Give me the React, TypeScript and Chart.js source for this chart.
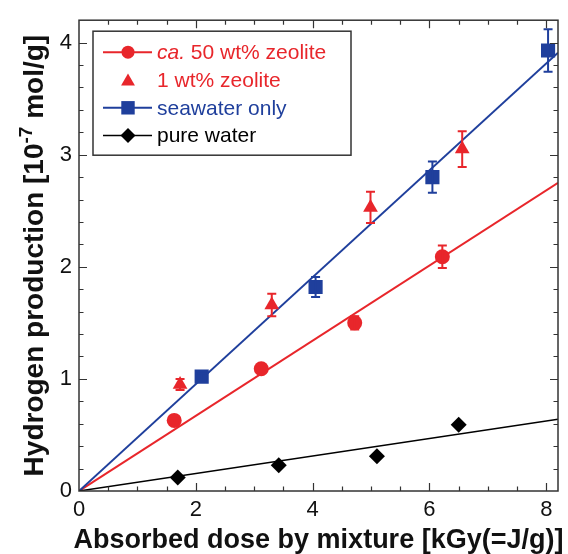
import React, { useEffect, useRef } from "react";
import { Chart, registerables } from "chart.js";

Chart.register(...registerables);

const RED = "#e8262b";
const BLUE = "#1f3f9c";
const BLACK = "#000000";
const FRAME = "#333333";
const FONT = "'Liberation Sans', Arial, sans-serif";

// ca. 50 wt% zeolite (red circles)
const zeolite50X = [1.63, 3.12, 4.72, 6.22];
const zeolite50Y = [0.63, 1.09, 1.5, 2.09];
const zeolite50Err = [0.02, 0.02, 0.06, 0.1];

// 1 wt% zeolite (red triangles)
const zeolite1X = [1.73, 3.3, 4.99, 6.56];
const zeolite1Y = [0.95, 1.66, 2.53, 3.05];
const zeolite1Err = [0.05, 0.1, 0.14, 0.16];

// seawater only (blue squares)
const seawaterX = [2.1, 4.05, 6.05, 8.03];
const seawaterY = [1.02, 1.82, 2.8, 3.93];
const seawaterErr = [0.03, 0.09, 0.14, 0.19];

// pure water (black diamonds)
const pureX = [1.69, 3.42, 5.1, 6.5];
const pureY = [0.12, 0.23, 0.31, 0.59];
const pureErr = [0, 0, 0, 0];

// linear fits (endpoints)
const fitX = [0, 8.2];
const fit50Y = [0, 2.75];
const fitSeaY = [0, 3.91];
const fitPureY = [0, 0.64];

// axes
const X_MIN = 0;
const X_MAX = 8.2;
const X_STEP = 2;
const X_MINOR = 0.5;
const Y_MIN = 0;
const Y_MAX = 4.2;
const Y_STEP = 1;
const Y_MINOR = 0.2;

const X_TITLE = "Absorbed dose by mixture [kGy(=J/g)]";
const Y_TITLE_A = "Hydrogen production [10";
const Y_TITLE_SUP = "-7";
const Y_TITLE_B = " mol/g]";

const legendItems = [
  { italic: "ca.", text: " 50 wt% zeolite", color: RED, style: "circle", line: true },
  { italic: "", text: "1 wt% zeolite", color: RED, style: "triangle", line: false },
  { italic: "", text: "seawater only", color: BLUE, style: "rect", line: true },
  { italic: "", text: "pure water", color: BLACK, style: "rectRot", line: true },
];

const toPts = (xs: number[], ys: number[]) => xs.map((x, i) => ({ x, y: ys[i] }));

const errorSets = [
  { xs: zeolite50X, ys: zeolite50Y, es: zeolite50Err, color: RED },
  { xs: zeolite1X, ys: zeolite1Y, es: zeolite1Err, color: RED },
  { xs: seawaterX, ys: seawaterY, es: seawaterErr, color: BLUE },
  { xs: pureX, ys: pureY, es: pureErr, color: BLACK },
];

function drawMarker(ctx: CanvasRenderingContext2D, style: string, x: number, y: number, r: number, color: string) {
  ctx.save();
  ctx.fillStyle = color;
  ctx.beginPath();
  if (style === "circle") {
    ctx.arc(x, y, r, 0, Math.PI * 2);
  } else if (style === "triangle") {
    const w = r * Math.sqrt(3) / 2;
    ctx.moveTo(x, y - r);
    ctx.lineTo(x + w, y + r / 2);
    ctx.lineTo(x - w, y + r / 2);
    ctx.closePath();
  } else if (style === "rect") {
    const s = r * Math.SQRT1_2;
    ctx.rect(x - s, y - s, 2 * s, 2 * s);
  } else {
    ctx.moveTo(x, y - r);
    ctx.lineTo(x + r, y);
    ctx.lineTo(x, y + r);
    ctx.lineTo(x - r, y);
    ctx.closePath();
  }
  ctx.fill();
  ctx.restore();
}

const errorBarPlugin = {
  id: "errorBars",
  afterDatasetsDraw(chart: any) {
    const { ctx, scales } = chart;
    const xs = scales.x;
    const ys = scales.y;
    ctx.save();
    ctx.lineWidth = 2;
    errorSets.forEach((s) => {
      ctx.strokeStyle = s.color;
      s.xs.forEach((xv, i) => {
        const e = s.es[i];
        if (!e) return;
        const px = xs.getPixelForValue(xv);
        const top = ys.getPixelForValue(s.ys[i] + e);
        const bot = ys.getPixelForValue(s.ys[i] - e);
        ctx.beginPath();
        ctx.moveTo(px, top);
        ctx.lineTo(px, bot);
        ctx.moveTo(px - 4.5, top);
        ctx.lineTo(px + 4.5, top);
        ctx.moveTo(px - 4.5, bot);
        ctx.lineTo(px + 4.5, bot);
        ctx.stroke();
      });
    });
    ctx.restore();
  },
};

const framePlugin = {
  id: "frameTicks",
  afterDraw(chart: any) {
    const { ctx, chartArea: a, scales } = chart;
    const xs = scales.x;
    const ys = scales.y;
    ctx.save();
    ctx.strokeStyle = FRAME;
    ctx.lineWidth = 1.5;
    ctx.strokeRect(a.left, a.top, a.right - a.left, a.bottom - a.top);
    ctx.lineWidth = 1.2;
    ctx.beginPath();
    const nx = Math.round((X_MAX - X_MIN) / X_MINOR);
    for (let i = 1; i <= nx; i++) {
      const v = X_MIN + i * X_MINOR;
      if (v >= X_MAX - 1e-6) continue;
      const major = Math.abs(v / X_STEP - Math.round(v / X_STEP)) < 1e-6;
      const len = major ? 8 : 4.5;
      const px = Math.round(xs.getPixelForValue(v)) + 0.5;
      ctx.moveTo(px, a.bottom);
      ctx.lineTo(px, a.bottom - len);
      ctx.moveTo(px, a.top);
      ctx.lineTo(px, a.top + len);
    }
    const ny = Math.round((Y_MAX - Y_MIN) / Y_MINOR);
    for (let i = 1; i <= ny; i++) {
      const v = Y_MIN + i * Y_MINOR;
      if (v >= Y_MAX - 1e-6) continue;
      const major = Math.abs(v / Y_STEP - Math.round(v / Y_STEP)) < 1e-6;
      const len = major ? 8 : 4.5;
      const py = Math.round(ys.getPixelForValue(v)) + 0.5;
      ctx.moveTo(a.left, py);
      ctx.lineTo(a.left + len, py);
      ctx.moveTo(a.right, py);
      ctx.lineTo(a.right - len, py);
    }
    ctx.stroke();

    // axis titles
    ctx.fillStyle = "#111";
    ctx.font = `bold 27px ${FONT}`;
    ctx.textAlign = "center";
    ctx.textBaseline = "alphabetic";
    ctx.fillText(X_TITLE, (a.left + a.right) / 2, 548);

    // y title with superscript
    ctx.save();
    ctx.translate(43, (a.top + a.bottom) / 2);
    ctx.rotate(-Math.PI / 2);
    ctx.font = `bold 28px ${FONT}`;
    const wA = ctx.measureText(Y_TITLE_A).width;
    const wB = ctx.measureText(Y_TITLE_B).width;
    ctx.font = `bold 19px ${FONT}`;
    const wS = ctx.measureText(Y_TITLE_SUP).width;
    const total = wA + wS + wB;
    let cx = -total / 2;
    ctx.textAlign = "left";
    ctx.font = `bold 28px ${FONT}`;
    ctx.fillText(Y_TITLE_A, cx, 0);
    cx += wA;
    ctx.font = `bold 19px ${FONT}`;
    ctx.fillText(Y_TITLE_SUP, cx, -11);
    cx += wS;
    ctx.font = `bold 28px ${FONT}`;
    ctx.fillText(Y_TITLE_B, cx, 0);
    ctx.restore();

    // legend
    const lx = a.left + 14;
    const ly = a.top + 11;
    const lw = 258;
    const lh = 124;
    ctx.fillStyle = "#fff";
    ctx.fillRect(lx, ly, lw, lh);
    ctx.strokeStyle = FRAME;
    ctx.lineWidth = 1.5;
    ctx.strokeRect(lx, ly, lw, lh);
    legendItems.forEach((it, i) => {
      const yy = ly + 21 + i * 27.8;
      if (it.line) {
        ctx.strokeStyle = it.color;
        ctx.lineWidth = it.color === BLACK ? 1.5 : 2;
        ctx.beginPath();
        ctx.moveTo(lx + 10, yy);
        ctx.lineTo(lx + 59, yy);
        ctx.stroke();
      }
      const r = it.style === "rect" ? 9.5 : it.style === "triangle" ? 8 : it.style === "rectRot" ? 7.5 : 6.5;
      drawMarker(ctx, it.style, lx + 35, yy + (it.style === "triangle" ? 1.5 : 0), r, it.color);
      ctx.fillStyle = it.color;
      ctx.textAlign = "left";
      ctx.textBaseline = "middle";
      let tx = lx + 64;
      if (it.italic) {
        ctx.font = `italic 21px ${FONT}`;
        ctx.fillText(it.italic, tx, yy + 1);
        tx += ctx.measureText(it.italic).width;
      }
      ctx.font = `21px ${FONT}`;
      ctx.fillText(it.text, tx, yy + 1);
    });
    ctx.restore();
  },
};

export default function App() {
  const ref = useRef<HTMLCanvasElement>(null);
  useEffect(() => {
    if (!ref.current) return;
    const chart = new Chart(ref.current, {
      type: "scatter",
      data: {
        datasets: [
          {
            label: "fit 50",
            data: toPts(fitX, fit50Y),
            showLine: true,
            borderColor: RED,
            borderWidth: 2,
            pointRadius: 0,
            order: 10,
          },
          {
            label: "fit seawater",
            data: toPts(fitX, fitSeaY),
            showLine: true,
            borderColor: BLUE,
            borderWidth: 2,
            pointRadius: 0,
            order: 9,
          },
          {
            label: "fit pure",
            data: toPts(fitX, fitPureY),
            showLine: true,
            borderColor: BLACK,
            borderWidth: 1.5,
            pointRadius: 0,
            order: 8,
          },
          {
            label: "ca. 50 wt% zeolite",
            data: toPts(zeolite50X, zeolite50Y),
            pointStyle: "circle",
            pointRadius: 7.5,
            backgroundColor: RED,
            borderColor: RED,
            borderWidth: 0,
            order: 4,
          },
          {
            label: "1 wt% zeolite",
            data: toPts(zeolite1X, zeolite1Y),
            pointStyle: "triangle",
            pointRadius: 8.5,
            backgroundColor: RED,
            borderColor: RED,
            borderWidth: 0,
            order: 3,
          },
          {
            label: "seawater only",
            data: toPts(seawaterX, seawaterY),
            pointStyle: "rect",
            pointRadius: 10,
            backgroundColor: BLUE,
            borderColor: BLUE,
            borderWidth: 0,
            order: 2,
          },
          {
            label: "pure water",
            data: toPts(pureX, pureY),
            pointStyle: "rectRot",
            pointRadius: 8,
            backgroundColor: BLACK,
            borderColor: BLACK,
            borderWidth: 0,
            order: 1,
          },
        ],
      },
      options: {
        responsive: false,
        animation: false,
        layout: { padding: { left: 59, right: 9, top: 13, bottom: 35 } },
        plugins: { legend: { display: false }, tooltip: { enabled: false } },
        scales: {
          x: {
            type: "linear",
            min: X_MIN,
            max: X_MAX,
            grid: { display: false, drawTicks: false },
            border: { display: false },
            ticks: {
              stepSize: X_STEP,
              includeBounds: false,
              padding: 6,
              color: "#111",
              font: { family: FONT, size: 22 },
            },
            afterFit: (s: any) => {
              s.height = 28;
            },
          },
          y: {
            type: "linear",
            min: Y_MIN,
            max: Y_MAX,
            grid: { display: false, drawTicks: false },
            border: { display: false },
            ticks: {
              stepSize: Y_STEP,
              includeBounds: false,
              padding: 7,
              color: "#111",
              font: { family: FONT, size: 22 },
            },
            afterFit: (s: any) => {
              s.width = 20;
            },
          },
        },
      },
      plugins: [errorBarPlugin, framePlugin],
    });
    return () => chart.destroy();
  }, []);
  return (
    <div style={{ position: "absolute", left: 0, top: 0, width: 568, height: 554, background: "#fff" }}>
      <canvas ref={ref} width={568} height={554} />
    </div>
  );
}
